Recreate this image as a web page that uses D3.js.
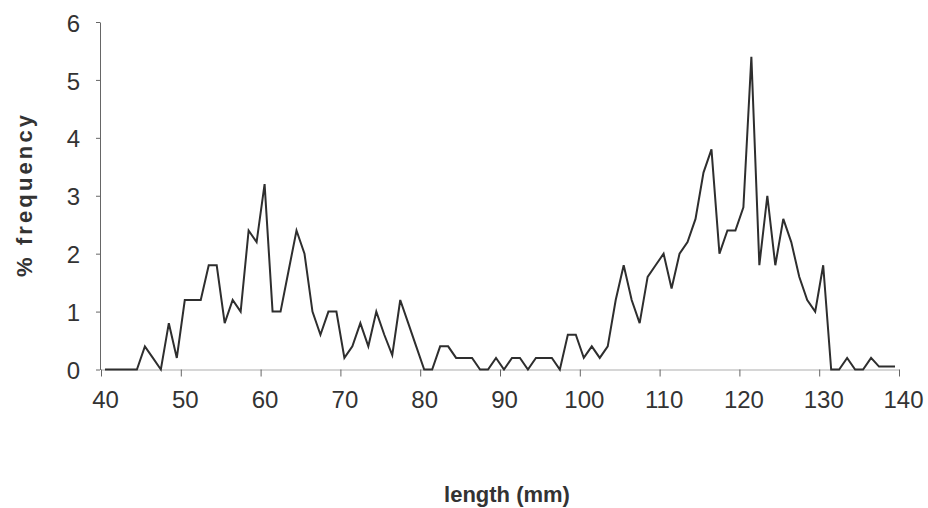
<!DOCTYPE html>
<html>
<head>
<meta charset="utf-8">
<script src="https://cdn.jsdelivr.net/npm/d3@7"></script>
<style>
  body { margin: 0; background: #fff; }
  svg { display: block; }
  .tick text { font-family: "Liberation Sans", Arial, sans-serif; fill: #333; }
  .title { font-family: "Liberation Sans", Arial, sans-serif; font-weight: bold; fill: #333; }
</style>
</head>
<body>
<svg id="chart" width="928" height="508"></svg>
<script>
// length bins (lower edge, mm); each value is plotted at the bin middle
var binStarts = d3.range(40, 140);

// % frequency per 1 mm bin
var freq = [
  0, 0, 0, 0, 0, 0.4, 0.2, 0, 0.8, 0.2,          // 40-49
  1.2, 1.2, 1.2, 1.8, 1.8, 0.8, 1.2, 1.0, 2.4, 2.2, // 50-59
  3.2, 1.0, 1.0, 1.7, 2.4, 2.0, 1.0, 0.6, 1.0, 1.0, // 60-69
  0.2, 0.4, 0.8, 0.4, 1.0, 0.6, 0.25, 1.2, 0.8, 0.4, // 70-79
  0, 0, 0.4, 0.4, 0.2, 0.2, 0.2, 0, 0, 0.2,       // 80-89
  0, 0.2, 0.2, 0, 0.2, 0.2, 0.2, 0, 0.6, 0.6,     // 90-99
  0.2, 0.4, 0.2, 0.4, 1.2, 1.8, 1.2, 0.8, 1.6, 1.8, // 100-109
  2.0, 1.4, 2.0, 2.2, 2.6, 3.4, 3.8, 2.0, 2.4, 2.4, // 110-119
  2.8, 5.4, 1.8, 3.0, 1.8, 2.6, 2.2, 1.6, 1.2, 1.0, // 120-129
  1.8, 0, 0, 0.2, 0, 0, 0.2, 0.05, 0.05, 0.05     // 130-139
];

var xTicks = [40, 50, 60, 70, 80, 90, 100, 110, 120, 130, 140];
var yTicks = [0, 1, 2, 3, 4, 5, 6];

var svg = d3.select("#chart");

var x = d3.scaleLinear().domain([40, 140]).range([101, 899]);
var y = d3.scaleLinear().domain([0, 6]).range([369.5, 22]);

// y axis
var yAxis = svg.append("g")
    .attr("transform", "translate(100,0)")
    .call(d3.axisLeft(y).tickValues(yTicks).tickFormat(d3.format("d"))
        .tickSize(4).tickSizeOuter(0).tickPadding(16));
yAxis.select(".domain").attr("stroke", "#666");
yAxis.selectAll(".tick line").attr("stroke", "#666");
yAxis.selectAll(".tick text").attr("font-size", 24).attr("dy", "0.38em");

// x axis
var xAxis = svg.append("g")
    .attr("transform", "translate(0,369.5)")
    .call(d3.axisBottom(x).tickValues(xTicks).tickFormat(d3.format("d"))
        .tickSize(7).tickSizeOuter(0).tickPadding(14));
xAxis.select(".domain").attr("stroke", "#c8c8c8").attr("stroke-width", 1.5);
xAxis.selectAll(".tick line").attr("stroke", "#666");
xAxis.selectAll(".tick text").attr("font-size", 24).attr("dx", 4);

// frequency line
var line = d3.line()
    .x(function(d, i) { return x(binStarts[i] + 0.5); })
    .y(function(d) { return y(d); });

svg.append("path")
    .datum(freq)
    .attr("fill", "none")
    .attr("stroke", "#2e2e2e")
    .attr("stroke-width", 2)
    .attr("d", line);

// axis titles
svg.append("text")
    .attr("class", "title")
    .attr("x", 507)
    .attr("y", 502)
    .attr("text-anchor", "middle")
    .attr("font-size", 22)
    .text("length (mm)");

svg.append("text")
    .attr("class", "title")
    .attr("transform", "translate(32,196) rotate(-90)")
    .attr("text-anchor", "middle")
    .attr("font-size", 22)
    .attr("textLength", 162)
    .attr("lengthAdjust", "spacing")
    .text("% frequency");
</script>
</body>
</html>
